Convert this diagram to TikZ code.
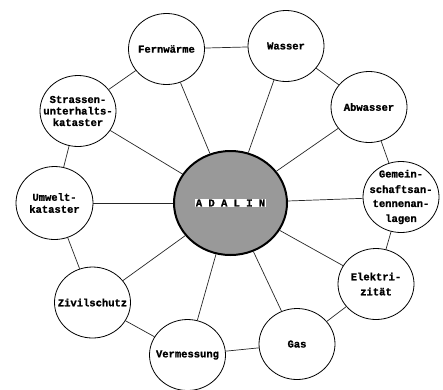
\documentclass[tikz,border=0pt]{standalone}
\usepackage{fontspec}
\setmonofont{Liberation Mono}[BoldFeatures={FakeBold=1.2}]
\usepackage{tikz}
\usetikzlibrary{shapes.geometric}

\tikzset{
	topictext/.style={font=\ttfamily\bfseries\fontsize{10.5}{12}\selectfont, align=center, inner sep=0pt},
	topic/.style={draw, ellipse, line width=0.8pt, minimum width=76pt, minimum height=71pt, inner sep=0pt, label={[topictext]center:{#1}}},
	spoke/.style={line width=0.7pt, black!85},
}

\begin{document}
\begin{tikzpicture}[x=1pt,y=-1pt]
	%Frame of the picture (pixel units, y downwards)
	\useasboundingbox (0,0) rectangle (443,389);

	%The system in the middle
	\node[draw, ellipse, line width=2pt, fill=black!40, minimum width=113pt, minimum height=104pt] (adalin) at (230.5,203) {};

	%The ring of topics
	\node[topic={Fernw\"arme}] (fern) at (166.5,49) {};
	\node[topic={Wasser}] (wasser) at (286,46) {};
	\node[topic={Abwasser}] (abwasser) at (369,107) {};
	\node[topic={Gemein-\\[3.5pt]schaftsan-\\[2pt]tennenan-\\[3pt]lagen}] (gemein) at (401,197) {};
	\node[topic={Elektri-\\[3pt]zit\"at}] (elektro) at (376,284) {};
	\node[topic={Gas}] (gas) at (297,344) {};
	\node[topic={Vermessung}] (verm) at (187.5,355) {};
	\node[topic={Zivilschutz}] (zivil) at (92.5,302.5) {};
	\node[topic={Umwelt-\\kataster}, minimum width=77pt, minimum height=73pt] (umwelt) at (54.5,203) {};
	\node[topic={Strassen-\\[-0.5pt]unterhalts-\\[-0.5pt]kataster}] (strasse) at (78,111) {};

	%Ring connections
	\foreach \a/\b in {fern/wasser, wasser/abwasser, abwasser/gemein, gemein/elektro, elektro/gas, gas/verm, verm/zivil, zivil/umwelt, umwelt/strasse, strasse/fern}
		\draw[spoke] (\a) -- (\b);

	%Spokes to the middle
	\foreach \n in {fern, wasser, abwasser, gemein, elektro, gas, verm, zivil, umwelt, strasse}
		\draw[spoke] (adalin) -- (\n);

	%Label of the middle
	\node[fill=white, inner xsep=0.5pt, inner ysep=1pt, font=\ttfamily\bfseries\fontsize{10.5}{12}\selectfont] (adalinlabel) at (adalin) {A D A L I N};
\end{tikzpicture}
\end{document}
